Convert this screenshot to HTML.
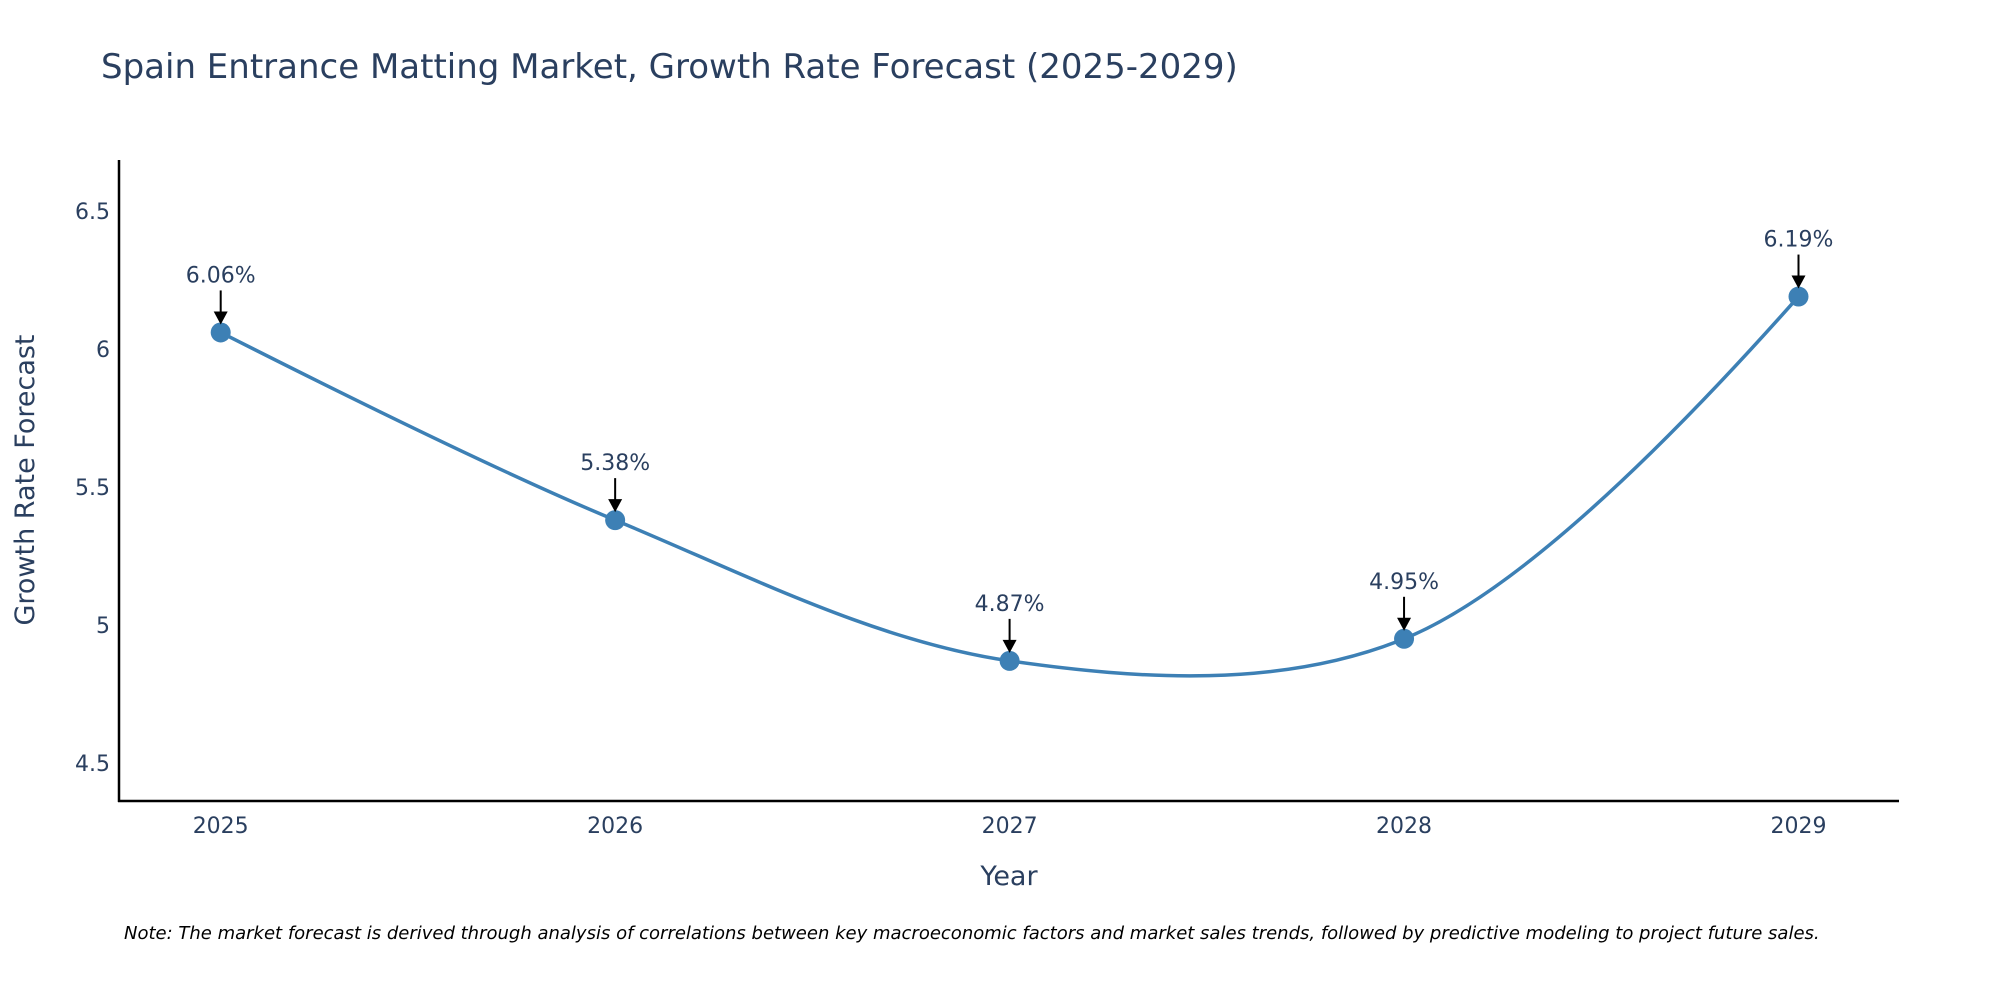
<!DOCTYPE html>
<html><head><meta charset="utf-8"><style>
html,body{margin:0;padding:0;background:#fff;}
svg{display:block;font-family:"DejaVu Sans","Liberation Sans",sans-serif;}
</style></head><body>
<svg id="chart" width="2000" height="1000" viewBox="0 0 2000 1000" xmlns="http://www.w3.org/2000/svg">
<text x="101" y="78" font-size="34" fill="#2a3f5f">Spain Entrance Matting Market, Growth Rate Forecast (2025-2029)</text>
<g id="yticks"></g>
<g id="xticks"></g>
<line x1="119" y1="160" x2="119" y2="802" stroke="#000" stroke-width="2.5"/>
<line x1="118" y1="801" x2="1899" y2="801" stroke="#000" stroke-width="2.5"/>
<text transform="translate(34,480) rotate(-90)" text-anchor="middle" font-size="27" fill="#2a3f5f">Growth Rate Forecast</text>
<text x="1009" y="885" text-anchor="middle" font-size="27" fill="#2a3f5f">Year</text>
<g id="series"></g>
<g id="annots"></g>
<text x="124" y="939" font-size="18" font-style="italic" fill="#000">Note: The market forecast is derived through analysis of correlations between key macroeconomic factors and market sales trends, followed by predictive modeling to project future sales.</text>
</svg>
<script>
const categories = [2025, 2026, 2027, 2028, 2029];
const values = [6.06, 5.38, 4.87, 4.95, 6.19];
const valueLabels = ["6.06%", "5.38%", "4.87%", "4.95%", "6.19%"];
const yTickValues = [4.5, 5, 5.5, 6, 6.5];
const yTickLabels = ["4.5", "5", "5.5", "6", "6.5"];

const NS = "http://www.w3.org/2000/svg";
function xScale(v){ return 220.7 + (v - 2025) * 394.45; }
function yScale(v){ return 763 - (v - 4.5) * 276; }
function mk(tag, attrs, parent){ const e=document.createElementNS(NS,tag); for(const k in attrs) e.setAttribute(k,attrs[k]); parent.appendChild(e); return e; }

const yt=document.getElementById('yticks');
yTickValues.forEach((v,i)=>{
  const t=mk('text',{x:110,y:yScale(v)+8,'text-anchor':'end','font-size':22,fill:'#2a3f5f'},yt);
  
  
  t.textContent=yTickLabels[i];
});
const xt=document.getElementById('xticks');
categories.forEach(c=>{
  const t=mk('text',{x:xScale(c),y:833,'text-anchor':'middle','font-size':22,fill:'#2a3f5f'},xt);
  
  
  t.textContent=String(c);
});

const pts=categories.map((c,i)=>[xScale(c),yScale(values[i])]);
function tangent(p,t,n,s){
  const d1x=p[0]-t[0],d1y=p[1]-t[1],d2x=n[0]-t[0],d2y=n[1]-t[1];
  const d1a=Math.pow(d1x*d1x+d1y*d1y,0.25),d2a=Math.pow(d2x*d2x+d2y*d2y,0.25);
  const nx=(d2a*d2a*d1x-d1a*d1a*d2x)*s,ny=(d2a*d2a*d1y-d1a*d1a*d2y)*s;
  const de1=3*d2a*(d1a+d2a),de2=3*d1a*(d1a+d2a);
  return [[t[0]+nx/de1,t[1]+ny/de1],[t[0]-nx/de2,t[1]-ny/de2]];
}
const tg=[];
for(let i=1;i<pts.length-1;i++) tg.push(tangent(pts[i-1],pts[i],pts[i+1],1));
let d='M'+pts[0].join(',')+' Q'+tg[0][0].join(',')+' '+pts[1].join(',');
for(let i=2;i<pts.length-1;i++) d+=' C'+tg[i-2][1].join(',')+' '+tg[i-1][0].join(',')+' '+pts[i].join(',');
d+=' Q'+tg[tg.length-1][1].join(',')+' '+pts[pts.length-1].join(',');
const sg=document.getElementById('series');
const line=mk('path',{d:d,fill:'none',stroke:'#3d80b5','stroke-width':3.5},sg);


pts.forEach(p=>{
  const c=mk('circle',{cx:p[0],cy:p[1],r:10,fill:'#3d80b5'},sg);
  
  
});
const ag=document.getElementById('annots');
pts.forEach((p,i)=>{
  const l=mk('line',{x1:p[0],y1:p[1]-42,x2:p[0],y2:p[1]-20,stroke:'#000','stroke-width':2},ag);
  
  
  const h=mk('polygon',{points:`${p[0]-7},${p[1]-21} ${p[0]+7},${p[1]-21} ${p[0]},${p[1]-8}`,fill:'#000'},ag);
  
  
  const t=mk('text',{x:p[0],y:p[1]-50,'text-anchor':'middle','font-size':22,fill:'#2a3f5f'},ag);
  
  
  t.textContent=valueLabels[i];
});
</script>
</body></html>
